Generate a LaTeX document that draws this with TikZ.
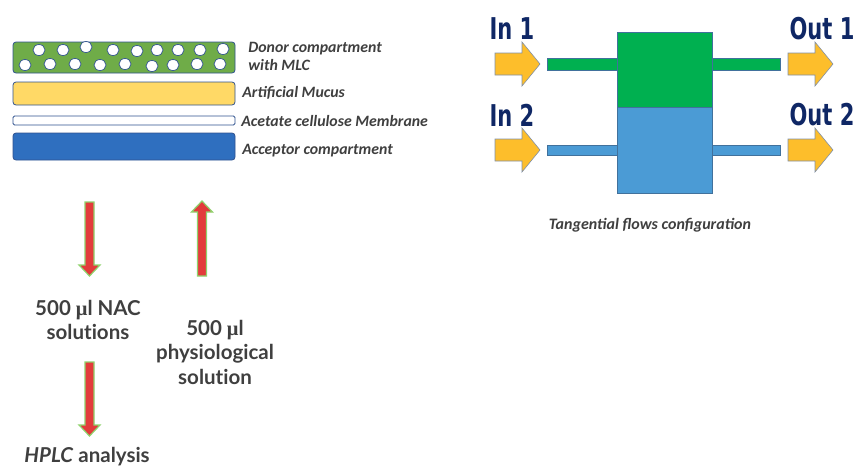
\documentclass[tikz,border=0pt]{standalone}
\usepackage{amsmath,amssymb}
\usepackage{fontspec}
\setmainfont{Carlito}
\newfontfamily\labelfont[Ligatures=NoCommon]{Lato}
\newfontfamily\portfont{DejaVu Sans}
\newfontfamily\mufont{Liberation Serif}
\usepackage{tikz}

\definecolor{donorgreen}{HTML}{6FAC48}
\definecolor{mucusyellow}{HTML}{FFD966}
\definecolor{acceptorblue}{HTML}{2F6FBF}
\definecolor{layerline}{HTML}{2F528F}
\definecolor{flowyellow}{HTML}{FDBE2B}
\definecolor{flowline}{HTML}{8090A8}
\definecolor{cellgreen}{HTML}{00B050}
\definecolor{cellblue}{HTML}{4B9BD5}
\definecolor{cellline}{HTML}{41719C}
\definecolor{samplered}{HTML}{E33B3B}
\definecolor{sampleline}{HTML}{8ED36C}
\definecolor{portnavy}{HTML}{0F2765}
\definecolor{textgray}{HTML}{3F3F3F}

\newcommand{\microl}{{\mufont\bfseries μ}l}
\newcommand{\narrow}[1]{\scalebox{0.7}[1]{#1}}

\begin{document}
\begin{tikzpicture}[x=1pt,y=-1pt,line width=0.8pt,
  layer/.style={draw=layerline,rounded corners=3pt},
  layertext/.style={anchor=west,font=\fontsize{15.8}{17}\selectfont\bfseries\itshape,text=textgray,inner sep=0pt,align=left},
  porttext/.style={font=\portfont\fontsize{30}{30}\selectfont\bfseries,text=portnavy,inner sep=0pt},
  stepinfo/.style={font=\labelfont\fontsize{20.5}{24.5}\selectfont\bfseries,text=textgray,inner sep=0pt,align=center},
  flowarrow/.style={fill=flowyellow,draw=flowline,line width=0.6pt},
  samplearrow/.style={fill=samplered,draw=sampleline,line width=1.2pt}]
\useasboundingbox (0,0) rectangle (856,467);

% diffusion cell layers
\draw[layer,fill=donorgreen] (13,42) rectangle (235,73);
\draw[draw=layerline,fill=white,line width=0.7pt]
  (39,50) ellipse (6 and 5.5) (63,50) ellipse (6 and 5.5) (86,47) ellipse (6 and 5.5)
  (113,50) ellipse (6 and 5.5) (137,51) ellipse (6 and 5.5) (157,50) ellipse (6 and 5.5)
  (178,50) ellipse (6 and 5.5) (200,50) ellipse (6 and 5.5) (223,49) ellipse (6 and 5.5)
  (25,65) ellipse (6 and 5.5) (50,64) ellipse (6 and 5.5) (75,64) ellipse (6 and 5.5)
  (100,65) ellipse (6 and 5.5) (125,64) ellipse (6 and 5.5) (152,66) ellipse (6 and 5.5)
  (173,65) ellipse (6 and 5.5) (197,64) ellipse (6 and 5.5) (220,64) ellipse (6 and 5.5);
\draw[layer,fill=mucusyellow] (13,82) rectangle (235,105);
\draw[layer,fill=white,rounded corners=1.5pt] (13,116) rectangle (235,125);
\draw[layer,fill=acceptorblue] (13,133) rectangle (235,160);

\node[layertext] (donor) at (248,56) {Donor compartment\\[1pt]with MLC};
\node[layertext] (mucus) at (242,93) {Artificial Mucus};
\node[layertext] (membrane) at (241,121) {Acetate cellulose Membrane};
\node[layertext] (acceptor) at (242,151) {Acceptor compartment};

% sampling arrows
\draw[samplearrow] (85,202) -- (94,202) -- (94,265) -- (100,265) -- (89.5,276)
  -- (79,265) -- (85,265) -- cycle;
\draw[samplearrow] (197.5,276) -- (206.5,276) -- (206.5,212) -- (212.5,212) -- (202,201)
  -- (191.5,212) -- (197.5,212) -- cycle;
\draw[samplearrow] (85,362) -- (94,362) -- (94,425) -- (100,425) -- (89.5,436)
  -- (79,425) -- (85,425) -- cycle;

\node[stepinfo] (nac) at (88,320) {500 \microl{} NAC\\solutions};
\node[stepinfo] (physio) at (215,352) {500 \microl\\physiological\\solution};
\node[stepinfo,anchor=base west] (hplc) at (24,462) {\itshape HPLC\/\upshape{} analysis};

% tangential flow cell
\draw[draw=cellline,fill=cellgreen] (547,58) rectangle (617,70) (712,58) rectangle (780,70);
\draw[draw=cellline,fill=cellblue] (547,145) rectangle (617,155) (712,145) rectangle (780,155);
\draw[draw=cellline,fill=cellgreen] (617,32) rectangle (712,107);
\draw[draw=cellline,fill=cellblue] (617,107) rectangle (712,193);

\draw[flowarrow] (495,53) -- (522,53) -- (522,42) -- (540,64) -- (522,86) -- (522,75)
  -- (495,75) -- cycle;
\draw[flowarrow] (495,139) -- (522,139) -- (522,128) -- (540,150) -- (522,172) -- (522,161)
  -- (495,161) -- cycle;
\draw[flowarrow] (788,53) -- (815,53) -- (815,42) -- (833,64) -- (815,86) -- (815,75)
  -- (788,75) -- cycle;
\draw[flowarrow] (788,139) -- (815,139) -- (815,128) -- (833,150) -- (815,172) -- (815,161)
  -- (788,161) -- cycle;

\node[porttext] (in1) at (512,29) {\narrow{In 1}};
\node[porttext] (in2) at (512,115) {\narrow{In 2}};
\node[porttext] (out1) at (822,29) {\narrow{Out 1}};
\node[porttext] (out2) at (822,115) {\narrow{Out 2}};

\node[font=\fontsize{16}{18}\selectfont\bfseries\itshape,text=textgray] (config) at (650,225)
  {Tangential flows configuration};
\end{tikzpicture}
\end{document}
